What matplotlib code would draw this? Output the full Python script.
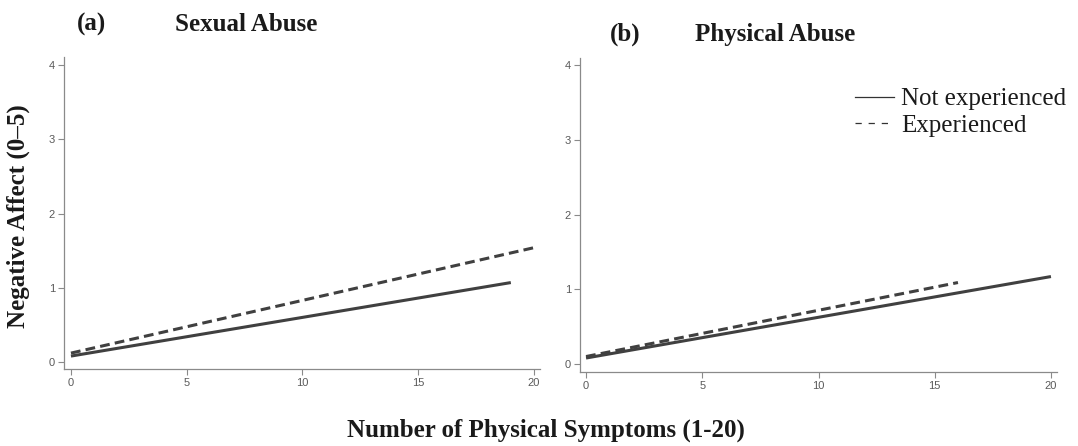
import matplotlib
matplotlib.use("Agg")
import matplotlib.pyplot as plt
from matplotlib.lines import Line2D

# Data
sexual_x_not = [0, 19]
sexual_y_not = [0.08, 1.07]
sexual_x_exp = [0, 20]
sexual_y_exp = [0.12, 1.54]

physical_x_not = [0, 20]
physical_y_not = [0.08, 1.17]
physical_x_exp = [0, 16]
physical_y_exp = [0.10, 1.09]

x_ticks = [0, 5, 10, 15, 20]
y_ticks = [0, 1, 2, 3, 4]
panel_labels = ["(a)", "(b)"]
panel_titles = ["Sexual Abuse", "Physical Abuse"]
legend_labels = ["Not experienced", "Experienced"]

W, H = 1078, 446
fig = plt.figure(figsize=(W / 100, H / 100), dpi=100)

serif = "Liberation Serif"
sans = "Liberation Sans"
line_col = "#404040"
axis_col = "#8a8a8a"
tick_col = "#5a5a5a"


def px_axes(left, right, top, bottom):
    return fig.add_axes([left / W, 1 - bottom / H, (right - left) / W, (bottom - top) / H])


ax1 = px_axes(64, 540, 57, 369)
ax2 = px_axes(580, 1057, 58, 372)

panels = [
    (ax1, sexual_x_not, sexual_y_not, sexual_x_exp, sexual_y_exp, (-0.30, 20.26), (-0.094, 4.108)),
    (ax2, physical_x_not, physical_y_not, physical_x_exp, physical_y_exp, (-0.26, 20.26), (-0.107, 4.094)),
]

for ax, xn, yn, xe, ye, xl, yl in panels:
    ax.plot(xn, yn, color=line_col, lw=2.2, solid_capstyle="butt")
    ax.plot(xe, ye, color=line_col, lw=2.2, dashes=(3.2, 1.7), dash_capstyle="butt")
    ax.set_xlim(*xl)
    ax.set_ylim(*yl)
    ax.set_xticks(x_ticks)
    ax.set_yticks(y_ticks)
    for s in ["top", "right"]:
        ax.spines[s].set_visible(False)
    for s in ["left", "bottom"]:
        ax.spines[s].set_color(axis_col)
        ax.spines[s].set_linewidth(0.9)
    ax.tick_params(axis="both", direction="out", length=4, width=0.8, color=axis_col,
                   labelcolor=tick_col, labelsize=8, pad=2.5)
    for lab in ax.get_xticklabels() + ax.get_yticklabels():
        lab.set_fontfamily(sans)

# Panel labels and titles
fig.text(92 / W, 1 - 31 / H, panel_labels[0], fontfamily=serif, fontweight="bold",
         fontsize=18, ha="center", va="baseline", color="#1a1a1a")
fig.text(175 / W, 1 - 31 / H, panel_titles[0], fontfamily=serif, fontweight="bold",
         fontsize=18, ha="left", va="baseline", color="#1a1a1a")
fig.text(625 / W, 1 - 41 / H, panel_labels[1], fontfamily=serif, fontweight="bold",
         fontsize=18, ha="center", va="baseline", color="#1a1a1a")
fig.text(695 / W, 1 - 41 / H, panel_titles[1], fontfamily=serif, fontweight="bold",
         fontsize=18, ha="left", va="baseline", color="#1a1a1a")

# Axis labels
fig.text(546 / W, 1 - 437 / H, "Number of Physical Symptoms (1-20)", fontfamily=serif,
         fontweight="bold", fontsize=18, ha="center", va="baseline", color="#1a1a1a")
fig.text(18 / W, 1 - 216 / H, "Negative Affect (0–5)", fontfamily=serif,
         fontweight="bold", fontsize=18, ha="center", va="center", rotation=90, color="#1a1a1a")

# Legend
handles = [
    Line2D([0], [0], color="#333333", lw=0.9),
    Line2D([0], [0], color="#333333", lw=0.9, dashes=(5, 5.5)),
]
leg = ax2.legend(handles, legend_labels, loc="upper left",
                 bbox_to_anchor=(855 / W, 1 - 88 / H), bbox_transform=fig.transFigure,
                 frameon=False, handlelength=1.55, handletextpad=0.3, labelspacing=0.15,
                 borderaxespad=0, borderpad=0,
                 prop={"family": serif, "size": 18})
for t in leg.get_texts():
    t.set_color("#1a1a1a")

fig.savefig("out.png", dpi=100)
